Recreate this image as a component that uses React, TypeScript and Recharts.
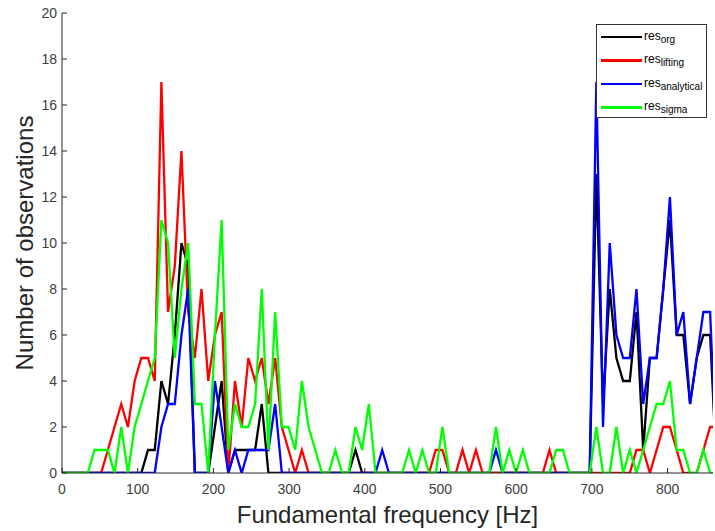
import React from 'react';
import { LineChart, Line, XAxis, YAxis, Label } from 'recharts';

// histogram bin centres [Hz]
const binHz = [
  -1.3, 7.5, 16.4, 25.2, 34.1, 42.9, 51.7, 60.6, 69.4, 78.3,
  87.1, 96.0, 104.8, 113.6, 122.5, 131.3, 140.1, 149.0, 157.8, 166.7,
  175.5, 184.3, 193.2, 202.0, 210.9, 219.7, 228.5, 237.4, 246.2, 255.1,
  263.9, 272.7, 281.6, 290.4, 299.3, 308.1, 316.9, 325.8, 334.6, 343.5,
  352.3, 361.1, 370.0, 378.8, 387.7, 396.5, 405.3, 414.2, 423.0, 431.9,
  440.7, 449.5, 458.4, 467.2, 476.1, 484.9, 493.7, 502.6, 511.4, 520.3,
  529.1, 537.9, 546.8, 555.6, 564.5, 573.3, 582.1, 591.0, 599.8, 608.7,
  617.5, 626.3, 635.2, 644.0, 652.9, 661.7, 670.5, 679.4, 688.2, 697.1,
  705.9, 714.7, 723.6, 732.4, 741.3, 750.1, 758.9, 767.8, 776.6, 785.5,
  794.3, 803.1, 812.0, 820.8, 829.7, 838.5, 847.3, 856.2, 865.0,
];

const resOrg = [
  0, 0, 0, 0, 0, 0, 0, 0, 0, 0,
  0, 0, 0, 1, 1, 4, 3, 6, 10, 9,
  0, 0, 0, 2, 4, 0, 1, 1, 1, 1,
  3, 0, 0, 0, 0, 0, 0, 0, 0, 0,
  0, 0, 0, 0, 1, 0, 0, 0, 0, 0,
  0, 0, 0, 0, 0, 0, 0, 0, 0, 0,
  0, 0, 0, 0, 0, 0, 0, 0, 0, 0,
  0, 0, 0, 0, 0, 0, 0, 0, 0, 0,
  13, 3, 8, 5, 4, 4, 7, 1, 5, 5,
  8, 11, 6, 6, 3, 5, 6, 6, 0,
];

const resLifting = [
  0, 0, 0, 0, 0, 0, 0, 1, 2, 3,
  2, 4, 5, 5, 4, 17, 7, 9, 14, 7,
  5, 8, 4, 6, 7, 0, 4, 2, 5, 4,
  5, 3, 5, 2, 1, 0, 1, 0, 0, 0,
  0, 0, 0, 0, 0, 0, 0, 0, 0, 0,
  0, 0, 0, 0, 0, 0, 1, 1, 0, 0,
  1, 0, 1, 0, 0, 0, 0, 0, 0, 0,
  0, 0, 0, 1, 0, 0, 0, 0, 0, 0,
  0, 0, 0, 0, 0, 0, 1, 1, 0, 1,
  2, 2, 1, 0, 0, 0, 1, 2, 2,
];

const resAnalytical = [
  0, 0, 0, 0, 0, 0, 0, 0, 0, 0,
  0, 0, 0, 0, 0, 2, 3, 3, 6, 8,
  0, 0, 0, 4, 2, 0, 1, 0, 1, 1,
  1, 1, 3, 0, 0, 0, 0, 0, 0, 0,
  0, 0, 0, 0, 0, 0, 0, 0, 1, 0,
  0, 0, 0, 0, 0, 0, 0, 0, 0, 0,
  0, 0, 0, 0, 0, 1, 0, 0, 0, 0,
  0, 0, 0, 0, 0, 0, 0, 0, 0, 0,
  17, 2, 10, 6, 5, 5, 8, 3, 5, 5,
  8, 12, 6, 7, 3, 5, 7, 7, 0,
];

const resSigma = [
  0, 0, 0, 0, 0, 1, 1, 1, 0, 2,
  0, 2, 3, 4, 5, 11, 10, 5, 8, 10,
  3, 3, 0, 6, 11, 1, 3, 2, 2, 3,
  8, 1, 7, 2, 2, 1, 4, 2, 1, 0,
  0, 1, 0, 0, 2, 1, 3, 0, 0, 0,
  0, 0, 1, 0, 1, 0, 0, 2, 0, 0,
  0, 0, 0, 0, 0, 2, 0, 1, 0, 1,
  0, 0, 0, 0, 1, 1, 0, 0, 0, 0,
  2, 0, 0, 2, 0, 1, 0, 1, 2, 3,
  3, 4, 1, 1, 0, 0, 1, 0, 0,
];

const xTicks = [0, 100, 200, 300, 400, 500, 600, 700, 800];
const yTicks = [0, 2, 4, 6, 8, 10, 12, 14, 16, 18, 20];

const series = [
  { key: 'org', sub: 'org', color: '#000000' },
  { key: 'lifting', sub: 'lifting', color: '#ff0000' },
  { key: 'analytical', sub: 'analytical', color: '#0000ff' },
  { key: 'sigma', sub: 'sigma', color: '#00ff00' },
];

const rows = binHz.map((hz, i) => ({
  hz,
  org: resOrg[i],
  lifting: resLifting[i],
  analytical: resAnalytical[i],
  sigma: resSigma[i],
}));

const FONT = '"Liberation Sans", Arial, sans-serif';
const AXIS = '#262626';
const tickStyle = { fill: '#404040', fontSize: 14, fontFamily: FONT };

const YTitle = (props: any) => {
  const { viewBox } = props;
  const x = viewBox.x + 33;
  const y = viewBox.y + viewBox.height / 2;
  return (
    <text x={x} y={y} transform={`rotate(-90, ${x}, ${y})`} textAnchor="middle"
      fill="#262626" fontSize={24} fontFamily={FONT}>
      Number of observations
    </text>
  );
};

function Legendbox() {
  return (
    <div style={{
      position: 'absolute', left: 596, top: 24, width: 111, height: 94,
      border: '1px solid #333', background: '#fff', fontFamily: FONT,
      boxSizing: 'border-box',
    }}>
      {series.map((s) => (
        <div key={s.key} style={{ display: 'flex', alignItems: 'center', height: 23.5 }}>
          <div style={{ marginLeft: 4, width: 41, height: 2.5, background: s.color }} />
          <span style={{ marginLeft: 2, fontSize: 12, color: '#000', lineHeight: '12px', position: 'relative', top: 1 }}>
            res<sub style={{ fontSize: 10 }}>{s.sub}</sub>
          </span>
        </div>
      ))}
    </div>
  );
}

export default function App() {
  return (
    <div style={{ position: 'absolute', left: 0, top: 0, width: 715, height: 531, background: '#fff' }}>
      <LineChart width={715} height={531} data={rows}
        margin={{ top: 13, right: 2, bottom: 0, left: 0 }}
        style={{ fontFamily: FONT }}>
        <XAxis dataKey="hz" type="number" domain={[0, 860]} ticks={xTicks} allowDataOverflow
          height={58} tickSize={-5} tickMargin={16} tick={tickStyle}
          axisLine={{ stroke: AXIS }} tickLine={{ stroke: AXIS }}>
          <Label value="Fundamental frequency [Hz]" position="insideBottom" offset={8}
            fill="#262626" fontSize={24} fontFamily={FONT} />
        </XAxis>
        <XAxis xAxisId="top" orientation="top" dataKey="hz" type="number" domain={[0, 860]}
          ticks={xTicks} allowDataOverflow height={0} tickSize={-5} tick={false}
          axisLine={{ stroke: AXIS }} tickLine={{ stroke: AXIS }} />
        <YAxis type="number" domain={[0, 20]} ticks={yTicks} width={62} allowDataOverflow
          tickSize={-5} tickMargin={10} tick={tickStyle}
          axisLine={{ stroke: AXIS }} tickLine={{ stroke: AXIS }}>
          <Label content={YTitle} />
        </YAxis>
        <YAxis yAxisId="right" orientation="right" type="number" domain={[0, 20]} ticks={yTicks}
          width={0} tickSize={-5} tick={false}
          axisLine={{ stroke: AXIS }} tickLine={{ stroke: AXIS }} />
        {series.map((s) => (
          <Line key={s.key} type="linear" dataKey={s.key} stroke={s.color} strokeWidth={2.3}
            dot={false} activeDot={false} isAnimationActive={false} />
        ))}
      </LineChart>
      <Legendbox />
    </div>
  );
}
